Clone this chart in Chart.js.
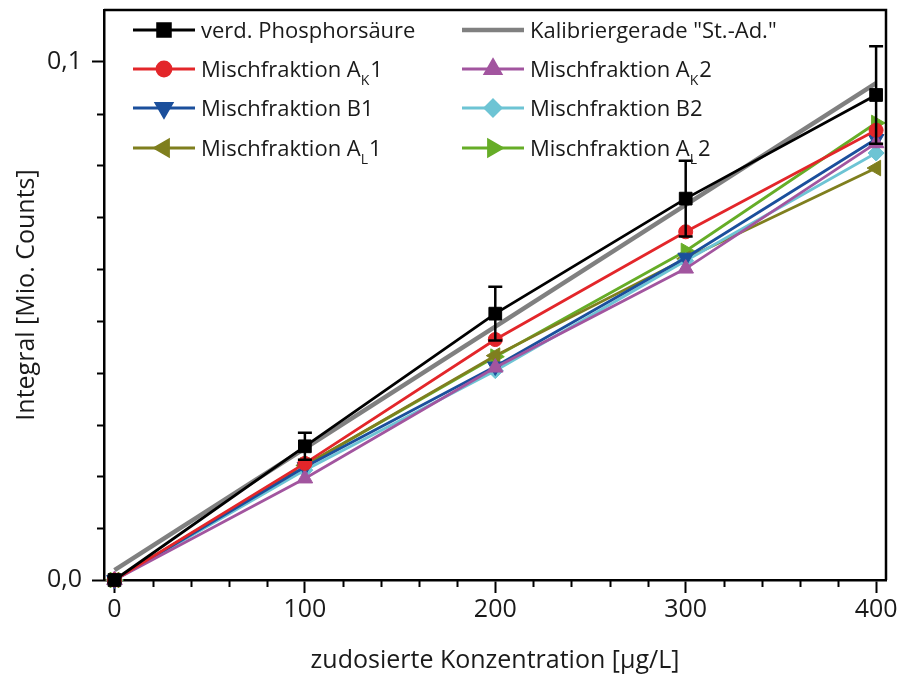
<!DOCTYPE html>
<html>
<head>
<meta charset="utf-8">
<title>Kalibrierung Phosphat</title>
<script src="https://cdn.jsdelivr.net/npm/chart.js@4.4.1/dist/chart.umd.min.js"></script>
<style>
    html, body { margin: 0; padding: 0; background: #fff; }
</style>
</head>
<body>
<canvas id="calibCanv" width="905" height="682"></canvas>
<script>
// concentration steps (µg/L) and measured integrals (Mio. counts)
const concentrations = [0, 100, 200, 300, 400];
const phosphoric    = [0, 0.0258, 0.0514, 0.0736, 0.0936];
const phosphoricErr = [0.0006, 0.0026, 0.0052, 0.0073, 0.0094];
const calibX = [0, 400];
const calibY = [0.0019, 0.0959];
const mixAK1 = [0, 0.0225, 0.0464, 0.0672, 0.0868];
const mixAK2 = [0, 0.0196, 0.0410, 0.0601, 0.0843];
const mixB1  = [0, 0.0218, 0.0412, 0.0622, 0.0851];
const mixB2  = [0, 0.0212, 0.0404, 0.0616, 0.0824];
const mixAL1 = [0, 0.0221, 0.0433, 0.0620, 0.0795];
const mixAL2 = [0, 0.0221, 0.0431, 0.0635, 0.0882];

const xTicks = [0, 100, 200, 300, 400];
const yTicks = [0, 0.1];
const xMinorStep = 20;
const yMinorStep = 0.01;

const FONT = '"Open Sans", "DejaVu Sans", sans-serif';

function toPoints(xs, ys) {
    return xs.map((x, i) => ({x: x, y: ys[i]}));
}

function series(label, color, values, pointStyle, radius, rotation) {
    return {
        label: label,
        data: toPoints(concentrations, values),
        borderColor: color,
        backgroundColor: color,
        borderWidth: 2.8,
        pointStyle: pointStyle,
        pointRadius: radius,
        pointRotation: rotation || 0,
        pointBorderWidth: 1,
        clip: false
    };
}

const datasets = [
    series('verd. Phosphorsäure', '#000000', phosphoric, 'rect', 9),
    {
        label: 'Kalibriergerade "St.-Ad."',
        data: toPoints(calibX, calibY),
        borderColor: '#808080',
        backgroundColor: '#808080',
        borderWidth: 4.5,
        pointRadius: 0,
        pointStyle: false,
        clip: false
    },
    series('Mischfraktion A_K1', '#e3262a', mixAK1, 'circle', 7),
    series('Mischfraktion A_K2', '#a2559f', mixAK2, 'triangle', 9),
    series('Mischfraktion B1', '#1b4f9c', mixB1, 'triangle', 9, 180),
    series('Mischfraktion B2', '#6dc4d4', mixB2, 'rectRot', 8),
    series('Mischfraktion A_L1', '#7f7f1e', mixAL1, 'triangle', 9, 270),
    series('Mischfraktion A_L2', '#66ad27', mixAL2, 'triangle', 9, 90)
];

// error bars for the phosphoric acid series
const errorBars = {
    id: 'errorBars',
    afterDatasetsDraw(chart) {
        const {ctx, scales: {x, y}} = chart;
        ctx.save();
        ctx.strokeStyle = '#000';
        ctx.lineWidth = 2.5;
        concentrations.forEach((c, i) => {
            const px = x.getPixelForValue(c);
            const top = y.getPixelForValue(phosphoric[i] + phosphoricErr[i]);
            const bot = y.getPixelForValue(phosphoric[i] - phosphoricErr[i]);
            ctx.beginPath();
            ctx.moveTo(px, top); ctx.lineTo(px, bot);
            ctx.moveTo(px - 7, top); ctx.lineTo(px + 7, top);
            ctx.moveTo(px - 7, bot); ctx.lineTo(px + 7, bot);
            ctx.stroke();
        });
        ctx.restore();
    }
};

// closed frame plus short minor ticks on both axes
const frame = {
    id: 'frame',
    afterDraw(chart) {
        const {ctx, chartArea: a, scales: {x, y}} = chart;
        ctx.save();
        ctx.strokeStyle = '#000';
        ctx.lineWidth = 2.5;
        ctx.beginPath();
        ctx.moveTo(a.left, a.top); ctx.lineTo(a.right, a.top); ctx.lineTo(a.right, a.bottom);
        ctx.stroke();

        ctx.lineWidth = 2;
        ctx.beginPath();
        for (let v = xMinorStep; v < x.max; v += xMinorStep) {
            if (v % 100 === 0) continue;
            const px = Math.round(x.getPixelForValue(v)) + 0.5;
            ctx.moveTo(px, a.bottom); ctx.lineTo(px, a.bottom + 7);
        }
        for (let k = 1; k * yMinorStep < y.max; k++) {
            if (k % 10 === 0) continue;
            const py = Math.round(y.getPixelForValue(k * yMinorStep)) + 0.5;
            ctx.moveTo(a.left, py); ctx.lineTo(a.left - 7, py);
        }
        ctx.stroke();
        ctx.restore();
    }
};

// legend in two columns, with subscripts written as "_X" in the labels
function drawLabel(ctx, label, x, baseline) {
    const parts = label.split(/_(.)/);
    parts.forEach((p, j) => {
        const sub = j % 2 === 1;
        ctx.font = (sub ? '14px ' : '22px ') + FONT;
        ctx.fillText(p, x, sub ? baseline + 8 : baseline);
        x += ctx.measureText(p).width + (sub ? 1 : 0);
    });
}

const legendBox = {
    id: 'legendBox',
    afterDraw(chart) {
        const ctx = chart.ctx;
        const colX = [133, 462];
        const rowY = [30, 69, 108, 148];
        ctx.save();
        chart.data.datasets.forEach((ds, i) => {
            const x0 = colX[i % 2];
            const yc = rowY[Math.floor(i / 2)];
            ctx.strokeStyle = ds.borderColor;
            ctx.lineWidth = ds.borderWidth;
            ctx.beginPath();
            ctx.moveTo(x0, yc); ctx.lineTo(x0 + 62, yc);
            ctx.stroke();
            if (ds.pointRadius) {
                ctx.fillStyle = ds.backgroundColor;
                Chart.helpers.drawPoint(ctx, {
                    pointStyle: ds.pointStyle,
                    radius: ds.pointRadius,
                    rotation: ds.pointRotation,
                    borderWidth: 1
                }, x0 + 31, yc);
            }
            ctx.fillStyle = '#1a1a1a';
            ctx.textBaseline = 'alphabetic';
            drawLabel(ctx, ds.label, x0 + 68, yc + 8);
        });
        ctx.restore();
    }
};

const calibChart = new Chart(document.getElementById('calibCanv'), {
    type: 'line',
    data: {datasets: datasets},
    plugins: [errorBars, frame, legendBox],
    options: {
        responsive: false,
        animation: false,
        devicePixelRatio: 1,
        layout: {padding: {top: 9, right: 19, left: 0, bottom: 0}},
        plugins: {legend: {display: false}, tooltip: {enabled: false}},
        scales: {
            x: {
                type: 'linear',
                min: -5.5,
                max: 405.2,
                afterBuildTicks: s => { s.ticks = xTicks.map(v => ({value: v})); },
                afterFit: s => { s.height = 102; s.paddingLeft = 0; s.paddingRight = 0; },
                ticks: {
                    color: '#1a1a1a',
                    font: {family: FONT, size: 25},
                    padding: 2,
                    maxRotation: 0
                },
                grid: {drawOnChartArea: false, tickLength: 13, tickWidth: 2, tickColor: '#000'},
                border: {color: '#000', width: 2.5},
                title: {
                    display: true,
                    text: 'zudosierte Konzentration [µg/L]',
                    color: '#1a1a1a',
                    font: {family: FONT, size: 25},
                    padding: {top: 0, bottom: 6}
                }
            },
            y: {
                type: 'linear',
                min: 0,
                max: 0.11,
                afterBuildTicks: s => { s.ticks = yTicks.map(v => ({value: v})); },
                afterFit: s => { s.width = 104; s.paddingTop = 0; s.paddingBottom = 0; },
                ticks: {
                    color: '#1a1a1a',
                    font: {family: FONT, size: 25},
                    padding: 10,
                    callback: v => v.toFixed(1).replace('.', ',')
                },
                grid: {drawOnChartArea: false, tickLength: 12, tickWidth: 2, tickColor: '#000'},
                border: {color: '#000', width: 2.5},
                title: {
                    display: true,
                    text: 'Integral [Mio. Counts]',
                    color: '#1a1a1a',
                    font: {family: FONT, size: 25},
                    padding: {top: 12, bottom: 0}
                }
            }
        }
    }
});
</script>
</body>
</html>
